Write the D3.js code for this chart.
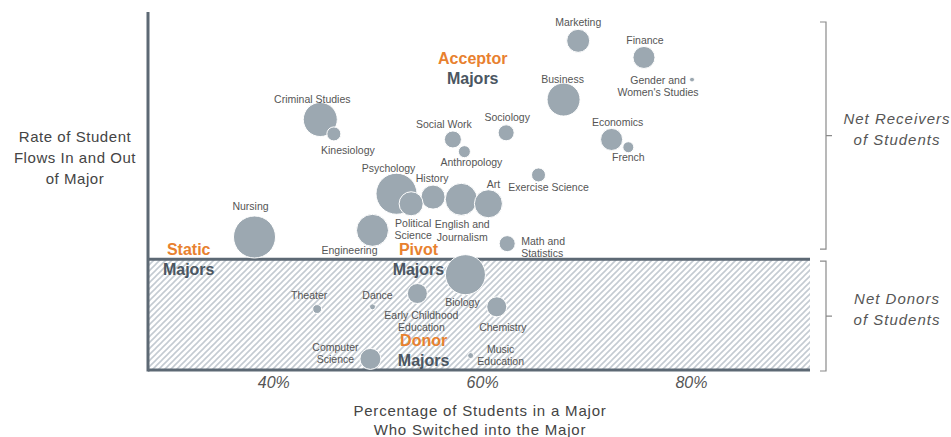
<!DOCTYPE html>
<html>
<head>
<meta charset="utf-8">
<script src="https://cdn.jsdelivr.net/npm/d3@7"></script>
<style>
  body { margin: 0; background: #fff; }
  svg { display: block; font-family: "Liberation Sans", Arial, sans-serif; }
</style>
</head>
<body>
<svg width="951" height="437"></svg>
<script>
// Majors, share of students who switched in (x), net flow rate (y), size of major
var majors = ["Marketing", "Finance", "Gender and Women's Studies", "Business",
    "Criminal Studies", "Kinesiology", "Social Work", "Anthropology", "Sociology",
    "Economics", "French", "Exercise Science", "Psychology", "History",
    "English and Journalism", "Art", "Political Science", "Nursing", "Engineering",
    "Math and Statistics", "Biology", "Early Childhood Education", "Chemistry",
    "Theater", "Dance", "Computer Science", "Music Education"];
var switchedIn = [69.2, 75.5, 80.1, 67.8, 44.5, 45.8, 57.2, 58.3, 62.3, 72.4, 74.0,
    65.4, 51.8, 55.3, 58.0, 60.6, 53.2, 38.2, 49.5, 62.4, 58.4, 53.8, 61.4, 44.2,
    49.5, 49.3, 58.9];
var flowRate = [1.97, 1.82, 1.62, 1.44, 1.26, 1.13, 1.08, 0.97, 1.14, 1.08, 1.01,
    0.76, 0.59, 0.56, 0.54, 0.50, 0.50, 0.20, 0.26, 0.14, -0.14, -0.31, -0.43, -0.45,
    -0.43, -0.90, -0.87];
var majorSize = [132, 121, 6, 272, 289, 49, 72, 36, 64, 121, 30, 49, 420, 144, 256,
    196, 144, 441, 256, 64, 400, 100, 100, 20, 9, 110, 9];

var xTicks = [40, 60, 80];
var groupNames = ["Acceptor", "Static", "Pivot", "Donor"];

// where each bubble label sits, relative to its bubble (pixels)
var labelLayout = {
    "Marketing": {lines: ["Marketing"], dx: 0, dy: -15},
    "Finance": {lines: ["Finance"], dx: 1, dy: -13},
    "Gender and Women's Studies": {lines: ["Gender and", "Women's Studies"], dx: -34, dy: 4},
    "Business": {lines: ["Business"], dx: -1, dy: -17},
    "Criminal Studies": {lines: ["Criminal Studies"], dx: -8, dy: -17},
    "Kinesiology": {lines: ["Kinesiology"], dx: 14, dy: 20},
    "Social Work": {lines: ["Social Work"], dx: -9, dy: -11},
    "Anthropology": {lines: ["Anthropology"], dx: 7, dy: 14},
    "Sociology": {lines: ["Sociology"], dx: 1, dy: -12},
    "Economics": {lines: ["Economics"], dx: 6, dy: -13},
    "French": {lines: ["French"], dx: 0, dy: 14},
    "Exercise Science": {lines: ["Exercise Science"], dx: 10, dy: 16},
    "Psychology": {lines: ["Psychology"], dx: -8, dy: -22},
    "History": {lines: ["History"], dx: -1, dy: -15},
    "English and Journalism": {lines: ["English and", "Journalism"], dx: 1, dy: 29},
    "Art": {lines: ["Art"], dx: 5, dy: -16},
    "Political Science": {lines: ["Political", "Science"], dx: 2, dy: 23},
    "Nursing": {lines: ["Nursing"], dx: -4, dy: -27},
    "Engineering": {lines: ["Engineering"], dx: -23, dy: 24},
    "Math and Statistics": {lines: ["Math and", "Statistics"], dx: 14, dy: 1, anchor: "start"},
    "Biology": {lines: ["Biology"], dx: -3, dy: 31},
    "Early Childhood Education": {lines: ["Early Childhood", "Education"], dx: 4, dy: 25},
    "Chemistry": {lines: ["Chemistry"], dx: 6, dy: 24},
    "Theater": {lines: ["Theater"], dx: -8, dy: -10},
    "Dance": {lines: ["Dance"], dx: 5, dy: -8},
    "Computer Science": {lines: ["Computer", "Science"], dx: -35, dy: -8},
    "Music Education": {lines: ["Music", "Education"], dx: 30, dy: -3}
};

// group annotations, placed in data units (x = %, y = flow rate of first line)
var groupLayout = {
    "Acceptor": {x: 59.1, y: 1.76},
    "Static": {x: 31.9, y: 0.035},
    "Pivot": {x: 53.9, y: 0.035},
    "Donor": {x: 54.4, y: -0.785}
};

var svg = d3.select("svg"),
    width = +svg.attr("width"),
    height = +svg.attr("height");

var x = d3.scaleLinear().domain([28, 91.4]).range([148, 810]);
var y = d3.scaleLinear().domain([-1, 2.23]).range([370, 12]);
var r = d3.scaleSqrt().domain([0, 440]).range([0, 21]);

var axisColor = "#5d6974",
    bubbleColor = "#9ca8b1",
    orange = "#e8812f",
    dark = "#4b5661",
    textColor = "#555";

// hatch pattern for the donor zone
var defs = svg.append("defs");
defs.append("pattern")
    .attr("id", "hatch")
    .attr("patternUnits", "userSpaceOnUse")
    .attr("width", 6)
    .attr("height", 6)
    .append("path")
    .attr("d", "M-1,1 l2,-2 M0,6 l6,-6 M5,7 l2,-2")
    .style("stroke", "#c4cbd2")
    .style("stroke-width", 1.6);

svg.append("rect")
    .attr("x", x(28))
    .attr("y", y(0))
    .attr("width", x(91.4) - x(28))
    .attr("height", y(-1) - y(0))
    .attr("fill", "url(#hatch)");

// lines: zero line, bottom line, left axis
svg.append("line")
    .attr("x1", x(28)).attr("x2", x(91.4))
    .attr("y1", y(0)).attr("y2", y(0))
    .style("stroke", axisColor).style("stroke-width", 3);
svg.append("line")
    .attr("x1", x(28)).attr("x2", x(91.4))
    .attr("y1", y(-1)).attr("y2", y(-1))
    .style("stroke", axisColor).style("stroke-width", 3);
svg.append("line")
    .attr("x1", x(28)).attr("x2", x(28))
    .attr("y1", y(2.23)).attr("y2", y(-1) + 1.5)
    .style("stroke", axisColor).style("stroke-width", 3);

// x axis tick labels
var xAxis = svg.append("g")
    .attr("transform", "translate(0," + (y(-1) + 3) + ")")
    .call(d3.axisBottom(x).tickValues(xTicks).tickSize(0).tickPadding(4)
        .tickFormat(function (d) { return d + "%"; }));
xAxis.select(".domain").remove();
xAxis.selectAll("text")
    .attr("font-family", "'Liberation Sans', Arial, sans-serif")
    .attr("font-size", "16px")
    .attr("font-style", "italic")
    .attr("fill", textColor);

// bubbles
var idx = d3.range(majors.length);
svg.append("g")
    .selectAll("circle")
    .data(idx)
    .enter()
    .append("circle")
    .attr("cx", function (i) { return x(switchedIn[i]); })
    .attr("cy", function (i) { return y(flowRate[i]); })
    .attr("r", function (i) { return r(majorSize[i]); })
    .attr("fill", bubbleColor)
    .style("stroke", "#fff")
    .style("stroke-width", 1);

// bubble labels
var labels = svg.append("g")
    .selectAll("text")
    .data(idx)
    .enter()
    .append("text")
    .attr("text-anchor", function (i) { return labelLayout[majors[i]].anchor || "middle"; })
    .attr("font-size", "10.5px")
    .attr("fill", textColor)
    .attr("transform", function (i) {
        var l = labelLayout[majors[i]];
        return "translate(" + (x(switchedIn[i]) + l.dx) + "," + (y(flowRate[i]) + l.dy) + ")";
    });
labels.selectAll("tspan")
    .data(function (i) { return labelLayout[majors[i]].lines; })
    .enter()
    .append("tspan")
    .attr("x", 0)
    .attr("y", function (d, j) { return j * 12.5; })
    .text(function (d) { return d; });

// group annotations
groupNames.forEach(function (g) {
    var p = groupLayout[g];
    var t = svg.append("text")
        .attr("x", x(p.x))
        .attr("y", y(p.y))
        .attr("text-anchor", "middle")
        .attr("font-size", "16px")
        .attr("font-weight", "bold");
    t.append("tspan").attr("x", x(p.x)).attr("fill", orange).text(g);
    t.append("tspan").attr("x", x(p.x)).attr("dy", 20).attr("fill", dark).text("Majors");
});

// brackets on the right
var bx = x(91.4) + 16;
function bracket(top, bottom) {
    var mid = (top + bottom) / 2;
    svg.append("path")
        .attr("d", "M" + (bx - 6) + "," + top + "H" + bx + "V" + bottom + "H" + (bx - 6) +
            "M" + bx + "," + mid + "H" + (bx + 6))
        .style("fill", "none")
        .style("stroke", "#8a8a8a")
        .style("stroke-width", 1.2);
    return mid;
}
var midTop = bracket(y(2.23) + 10, y(0) - 10);
var midBot = bracket(y(0) + 2, y(-1) + 1);

function sideLabel(lines, mid) {
    var t = svg.append("text")
        .attr("text-anchor", "middle")
        .attr("font-size", "15px")
        .attr("font-style", "italic")
        .attr("letter-spacing", "1px")
        .attr("fill", textColor);
    lines.forEach(function (l, j) {
        t.append("tspan").attr("x", 897).attr("y", mid - 12 + j * 21).text(l);
    });
}
sideLabel(["Net Receivers", "of Students"], midTop);
sideLabel(["Net Donors", "of Students"], midBot);

// axis titles
var yTitle = svg.append("text")
    .attr("text-anchor", "middle")
    .attr("font-size", "15px")
    .attr("letter-spacing", "0.55px")
    .attr("fill", "#444");
["Rate of Student", "Flows In and Out", "of Major"].forEach(function (l, j) {
    yTitle.append("tspan").attr("x", 75).attr("y", 142 + j * 21).text(l);
});

var xTitle = svg.append("text")
    .attr("text-anchor", "middle")
    .attr("font-size", "15px")
    .attr("letter-spacing", "0.8px")
    .attr("fill", "#444");
["Percentage of Students in a Major", "Who Switched into the Major"].forEach(function (l, j) {
    xTitle.append("tspan").attr("x", 480).attr("y", 416 + j * 19).text(l);
});
</script>
</body>
</html>
